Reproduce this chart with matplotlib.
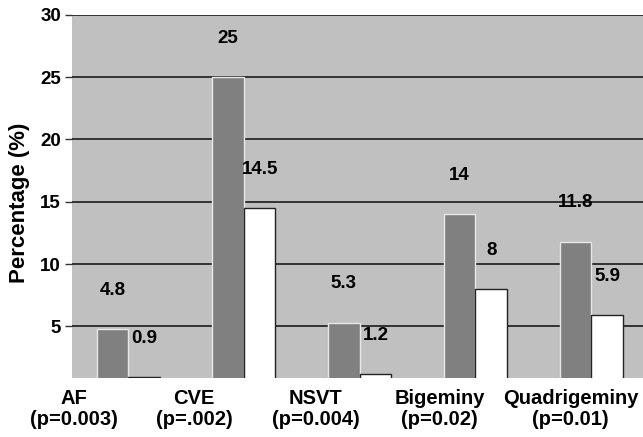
import numpy as np
import matplotlib
matplotlib.use("Agg")
import matplotlib.pyplot as plt

categories = ["AF\n(p=0.003)", "CVE\n(p=.002)", "NSVT\n(p=0.004)",
              "Bigeminy\n(p=0.02)", "Quadrigeminy\n(p=0.01)"]
group_a = [4.8, 25, 5.3, 14, 11.8]
group_b = [0.9, 14.5, 1.2, 8, 5.9]
yticks = [5, 10, 15, 20, 25, 30]

plt.rcParams['font.family'] = ['Liberation Sans', 'DejaVu Sans']
plt.rcParams['font.weight'] = 'bold'

fig = plt.figure(figsize=(6.43, 4.37), dpi=100)
ax = fig.add_axes([0.112, 0.135, 0.888, 0.831])
ax.set_facecolor("#c0c0c0")

x = np.arange(len(categories))
w = 0.272
ax.bar(x - w / 2, group_a, w, color="#808080", edgecolor="#e8e8e8", linewidth=1, zorder=3)
ax.bar(x + w / 2, group_b, w, color="white", edgecolor="#222222", linewidth=1, zorder=3)

for xi, v in zip(x - w / 2, group_a):
    ax.text(xi, v + 3.1, f"{v:g}", ha="center", va="center", fontsize=13.5, fontweight="bold")
for xi, v in zip(x + w / 2, group_b):
    ax.text(xi, v + 3.1, f"{v:g}", ha="center", va="center", fontsize=13.5, fontweight="bold")

ax.set_ylim(0.85, 30)
ax.set_xlim(-0.484, 4.447)
ax.set_yticks(yticks)
ax.set_yticklabels([str(t) for t in yticks], fontsize=13.5, fontweight="bold")

# the category labels in the original sit left of their bar groups
label_pos = [-0.47, 0.57, 1.62, 2.69, 3.82]
ax.set_xticks(label_pos)
ax.set_xticklabels(categories, fontsize=14.5, fontweight="bold", linespacing=1.15)
ax.tick_params(axis="x", length=0, pad=8)
ax.tick_params(axis="y", length=5, width=1, color="#333333", pad=3)
ax.yaxis.grid(True, color="#333333", linewidth=1.4, zorder=1)
ax.set_axisbelow(True)
for s in ax.spines.values():
    s.set_visible(False)

fig.text(0.03, 0.535, "Percentage (%)", rotation=90, ha="center", va="center",
         fontsize=16, fontweight="bold")

fig.savefig("out.png", dpi=100)
